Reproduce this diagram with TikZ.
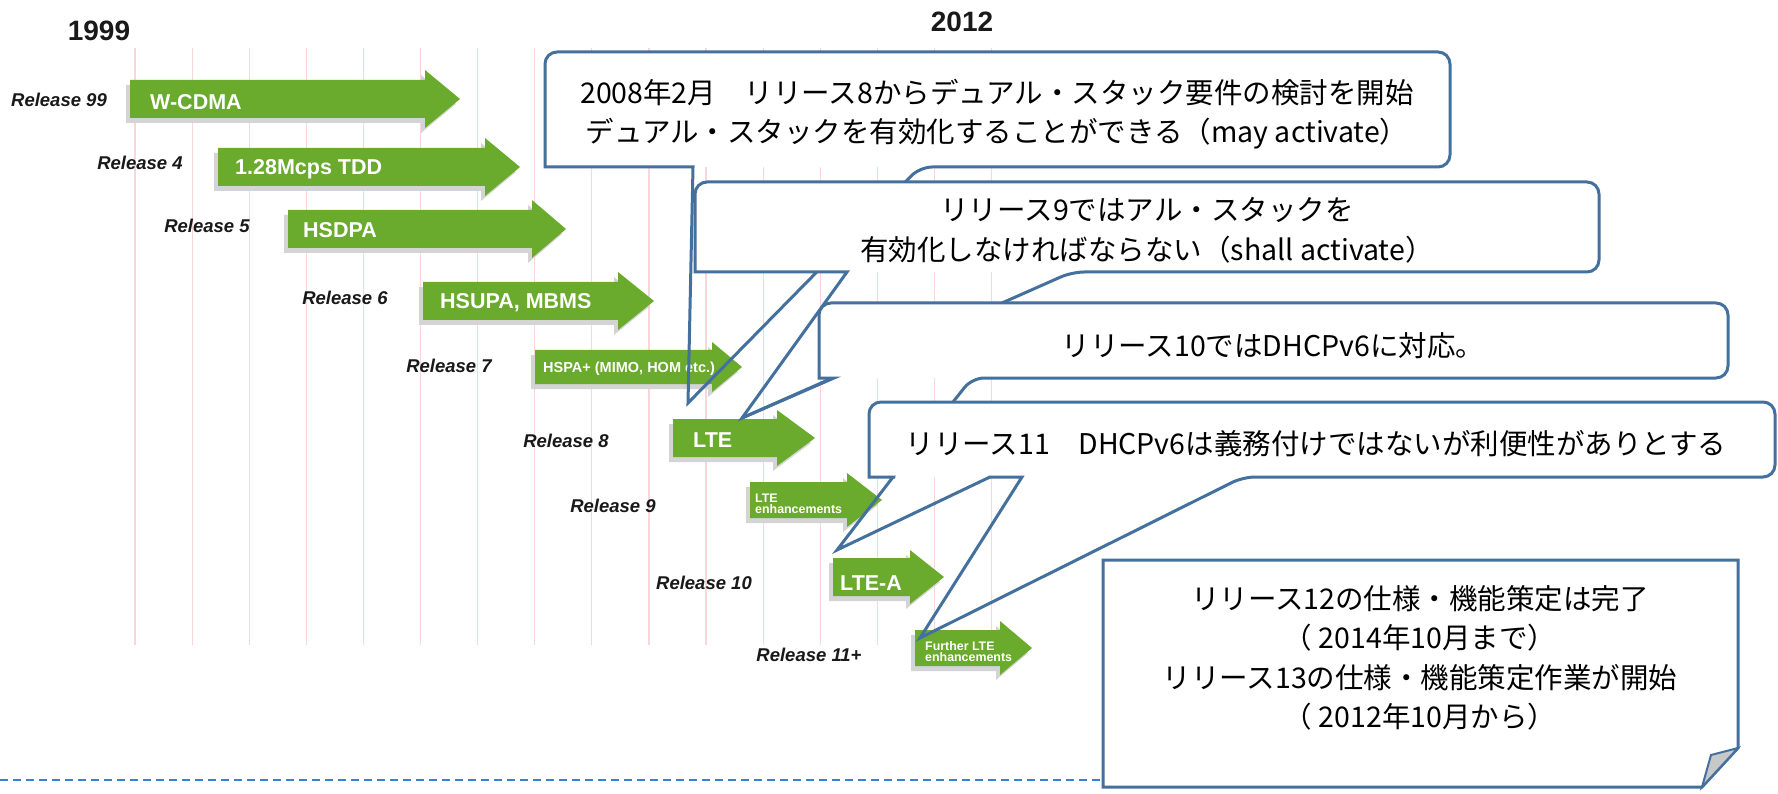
\documentclass[tikz,border=0pt]{standalone}
\usepackage{fontspec}
\setmainfont{Liberation Sans}
\newfontfamily\jpfont{Noto Sans CJK JP}
\definecolor{relgreen}{RGB}{106,170,45}
\definecolor{coblue}{RGB}{68,112,158}
\definecolor{gridpink}{RGB}{248,214,218}
\definecolor{dashblue}{RGB}{55,128,210}
\definecolor{foldgray}{RGB}{200,200,200}
\definecolor{shadowgray}{RGB}{212,212,212}
\tikzset{
  relbl/.style={font=\fontsize{18.5}{20}\selectfont\bfseries\itshape, text=black!90, anchor=base, inner sep=0pt},
  arrtxt/.style={font=\fontsize{21.5}{23}\selectfont\bfseries, text=white, anchor=base west, inner sep=0pt},
  smalltxt/.style={font=\fontsize{12.4}{13}\selectfont\bfseries, text=white, anchor=base west, inner sep=0pt},
  jptxt/.style={font=\jpfont\fontsize{28.5}{34}\selectfont, text=black, anchor=base, inner sep=0pt},
  yeartxt/.style={font=\fontsize{28}{30}\selectfont\bfseries, text=black!90, anchor=base, inner sep=0pt},
  coline/.style={draw=coblue, line width=3pt, line join=miter},
  gridline/.style={draw=gridpink, line width=1.2pt},
  dashline/.style={draw=dashblue, line width=2.5pt, dash pattern=on 8pt off 5pt},
}
% L H T C bodyhalf headhalf
\newcommand\relarrow[6]{%
  \fill[shadowgray] ({#1-4},{#4-#5+5}) -- ({#2-4},{#4-#5+5}) -- ({#2-4},{#4-#6+5}) -- ({#3-4},{#4+5}) -- ({#2-4},{#4+#6+5}) -- ({#2-4},{#4+#5+5}) -- ({#1-4},{#4+#5+5}) -- cycle;
  \fill[relgreen] (#1,{#4-#5}) -- (#2,{#4-#5}) -- (#2,{#4-#6}) -- (#3,#4) -- (#2,{#4+#6}) -- (#2,{#4+#5}) -- (#1,{#4+#5}) -- cycle;
}
\begin{document}
\begin{tikzpicture}[x=1pt,y=-1pt]
\useasboundingbox (0,0) rectangle (1778,794);
\fill[white] (0,0) rectangle (1778,794);
% grid lines
\foreach \i in {0,...,15} \draw[gridline] ({135+57.1*\i},48) -- ({135+57.1*\i},645);
% years
\node[yeartxt] (y1999) at (99,41) {1999};
\node[yeartxt] (y2012) at (962,32) {2012};
% arrows
\relarrow{130}{425}{460}{99}{19}{29}
\relarrow{218}{485}{520}{167}{19}{29}
\relarrow{288}{532}{566}{229}{19}{29}
\relarrow{423}{618}{654}{301}{19}{29}
\relarrow{535}{712}{742}{367}{17}{25}
\relarrow{673}{777}{815}{438}{19}{28}
\relarrow{750}{847}{882}{500}{18}{27}
\relarrow{833}{910}{944}{577}{19}{27}
\relarrow{915}{1000}{1032}{648}{18}{27}
% arrow texts
\node[arrtxt] (a1) at (150,110) {W-CDMA};
\node[arrtxt] (a2) at (235,175) {1.28Mcps TDD};
\node[arrtxt] (a3) at (303,238) {HSDPA};
\node[arrtxt] (a4) at (440,309) {HSUPA, MBMS};
\node[arrtxt, font=\fontsize{14.5}{15}\selectfont\bfseries] (a5) at (543,372) {HSPA+ (MIMO, HOM etc.)};
\node[arrtxt] (a6) at (693,447) {LTE};
\node[smalltxt] (a7a) at (755,502) {LTE};
\node[smalltxt] (a7b) at (755,513) {enhancements};
\node[arrtxt] (a8) at (840,590) {LTE-A};
\node[smalltxt] (a9a) at (925,650) {Further LTE};
\node[smalltxt] (a9b) at (925,661) {enhancements};
% release labels
\node[relbl] (r99) at (59,107) {Release 99};
\node[relbl] (r4) at (140,170) {Release 4};
\node[relbl] (r5) at (207,233) {Release 5};
\node[relbl] (r6) at (345,305) {Release 6};
\node[relbl] (r7) at (449,372) {Release 7};
\node[relbl] (r8) at (566,447) {Release 8};
\node[relbl] (r9) at (613,512) {Release 9};
\node[relbl] (r10) at (704,589) {Release 10};
\node[relbl] (r11) at (809,661) {Release 11+};
% dashed line
\coordinate (dl0) at (0,780);
\coordinate (dl1) at (1100,780);
\draw[dashline] (dl0) -- (dl1);
% callout 1
\fill[white,rounded corners=12] (545,52) rectangle (1450,167);
\draw[coline] (688,403) -- (693,167) -- (545,167) [rounded corners=12] -- (545,52) -- (1450,52) -- (1450,167) -- (920,167) [sharp corners] -- cycle;
% callout 2
\fill[white,rounded corners=12] (695,182) rectangle (1599,272);
\draw[coline] (742,418) -- (847,272) -- (695,272) [rounded corners=12] -- (695,182) -- (1599,182) -- (1599,272) -- (1072,272) [sharp corners] -- cycle;
% callout 3
\fill[white,rounded corners=12] (819,303) rectangle (1728,378);
\draw[coline] (742,418) -- (834,378) -- (819,378) [rounded corners=12] -- (819,303) -- (1728,303) -- (1728,378) -- (972,378) [sharp corners] -- (893,478);
% callout 4
\fill[white,rounded corners=12] (869,402) rectangle (1775,477);
\draw[coline] (837,550) -- (893,477) -- (869,477) [rounded corners=12] -- (869,402) -- (1775,402) -- (1775,477) -- (1243,477) [sharp corners] -- (920,638) -- (1022,477) -- (990,477) -- cycle;
% callout 5 (folded corner)
\filldraw[coline, fill=white] (1103,560) -- (1738,560) -- (1738,748) -- (1702,787) -- (1103,787) -- cycle;
\filldraw[coline, fill=foldgray, line width=2pt] (1738,748) -- (1711,755) -- (1702,787) -- cycle;
% callout texts
\node[jptxt] (t1a) at (997,104) {2008年2月　リリース8からデュアル・スタック要件の検討を開始};
\node[jptxt] (t1b) at (997,143) {デュアル・スタックを有効化することができる（may activate）};
\node[jptxt] (t2a) at (1147,221) {リリース9ではアル・スタックを};
\node[jptxt] (t2b) at (1147,261) {有効化しなければならない（shall activate）};
\node[jptxt] (t3) at (1273,356) {リリース10ではDHCPv6に対応。};
\node[jptxt] (t4) at (1316,454) {リリース11　DHCPv6は義務付けではないが利便性がありとする};
\node[jptxt] (t5a) at (1420,609) {リリース12の仕様・機能策定は完了};
\node[jptxt] (t5b) at (1420,648) {（ 2014年10月まで）};
\node[jptxt] (t5c) at (1420,688) {リリース13の仕様・機能策定作業が開始};
\node[jptxt] (t5d) at (1420,727) {（ 2012年10月から）};
\end{tikzpicture}
\end{document}
